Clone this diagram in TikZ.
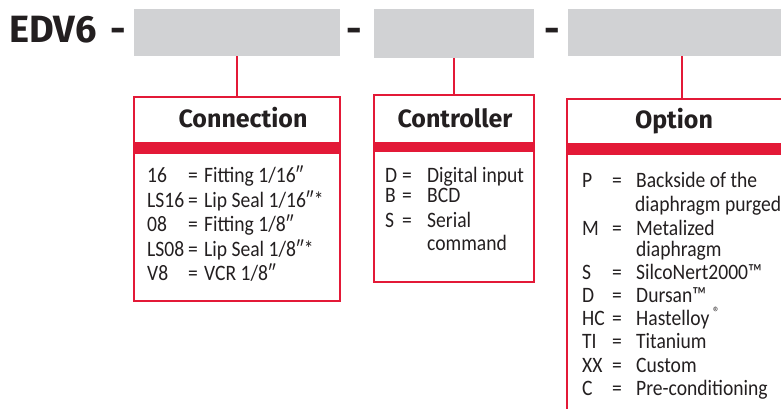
\documentclass[tikz,border=0pt]{standalone}
\usepackage{fontspec}
\setmainfont{Carlito}[FakeStretch=0.89]
\newfontfamily\headfont{Fira Sans}

\definecolor{edvred}{RGB}{227,25,55}
\definecolor{edvgray}{RGB}{209,210,212}
\definecolor{edvtext}{RGB}{35,31,32}

\tikzset{
  field/.style={fill=edvgray, minimum height=47pt, inner sep=0pt, outer sep=0pt, anchor=north west},
  codebox/.style={draw=edvred, line width=2.5pt, inner sep=0pt, outer sep=0pt, anchor=north west},
  band/.style={fill=edvred},
  wire/.style={draw=edvred, line width=2.5pt},
  head/.style={font=\headfont\bfseries\fontsize{25}{25}\selectfont, text=edvtext, anchor=base, inner sep=0pt},
  big/.style={font=\headfont\bfseries\fontsize{38}{38}\selectfont, text=edvtext, anchor=base, inner sep=0pt},
  entry/.style={font=\fontsize{22}{22}\selectfont, text=edvtext, anchor=base west, inner sep=0pt},
}

\begin{document}
\begin{tikzpicture}[x=1pt,y=-1pt]
  \useasboundingbox (0,0) rectangle (781,408);

  % part number with its three fields
  \node[big, anchor=base west] (title) at (9,42) {EDV6};
  \node[big] (dash1) at (118,42) {-};
  \node[big] (dash2) at (354,42) {-};
  \node[big] (dash3) at (552,42) {-};
  \node[field, minimum width=206pt] (field1) at (134,9) {};
  \node[field, minimum width=160pt, minimum height=49pt] (field2) at (374,9) {};
  \node[field, minimum width=228pt] (field3) at (568,9) {};

  % boxes below the fields
  \node[codebox, minimum width=206pt, minimum height=204pt] (conn) at (134,97) {};
  \node[codebox, minimum width=160pt, minimum height=187pt] (ctrl) at (374,95) {};
  \node[codebox, minimum width=230pt, minimum height=330pt] (opt) at (567,99) {};

  \fill[band] ([yshift=-45pt]conn.north west) rectangle ([yshift=-57pt]conn.north east);
  \fill[band] ([yshift=-47pt]ctrl.north west) rectangle ([yshift=-57pt]ctrl.north east);
  \fill[band] ([yshift=-44pt]opt.north west) rectangle ([yshift=-56pt]opt.north east);

  \draw[wire] (field1.south) -- (conn.north);
  \draw[wire] (field2.south) -- (ctrl.north);
  \draw[wire] (field3.south) -- (opt.north);

  \node[head] (connhead) at (243,127) {Connection};
  \node[head] (ctrlhead) at (455,127) {Controller};
  \node[head] (opthead) at (674,128) {Option};

  % Connection codes
  \foreach \y/\code/\desc [count=\i] in {182/16/{Fitting 1/16″}, 207/LS16/{Lip Seal 1/16″*},
      231/08/{Fitting 1/8″}, 256/LS08/{Lip Seal 1/8″*}, 280/V8/{VCR 1/8″}}{
    \node[entry] (conncode\i) at (147,\y) {\code};
    \node[entry] (conneq\i) at (188,\y) {=};
    \node[entry] (conndesc\i) at (204,\y) {\desc};
  }

  % Controller codes
  \foreach \y/\code/\desc [count=\i] in {182/D/Digital input, 202/B/BCD, 227/S/Serial}{
    \node[entry] (ctrlcode\i) at (385,\y) {\code};
    \node[entry] (ctrleq\i) at (402,\y) {=};
    \node[entry] (ctrldesc\i) at (427,\y) {\desc};
  }
  \node[entry] (ctrlmore) at (427,250) {command};

  % Option codes
  \foreach \y/\code/\desc [count=\i] in {187/P/Backside of the, 235/M/Metalized,
      279/S/SilcoNert2000™, 302/D/Dursan™, 325/HC/{Hastelloy\,\raisebox{0.35em}{\fontsize{15}{15}\selectfont ®}},
      348/TI/Titanium, 372/XX/Custom, 395/C/Pre-conditioning}{
    \node[entry] (optcode\i) at (582,\y) {\code};
    \node[entry] (opteq\i) at (612,\y) {=};
    \node[entry] (optdesc\i) at (636,\y) {\desc};
  }
  \node[entry] (optmore1) at (635,211) {diaphragm purged};
  \node[entry] (optmore2) at (636,256) {diaphragm};

\end{tikzpicture}
\end{document}
